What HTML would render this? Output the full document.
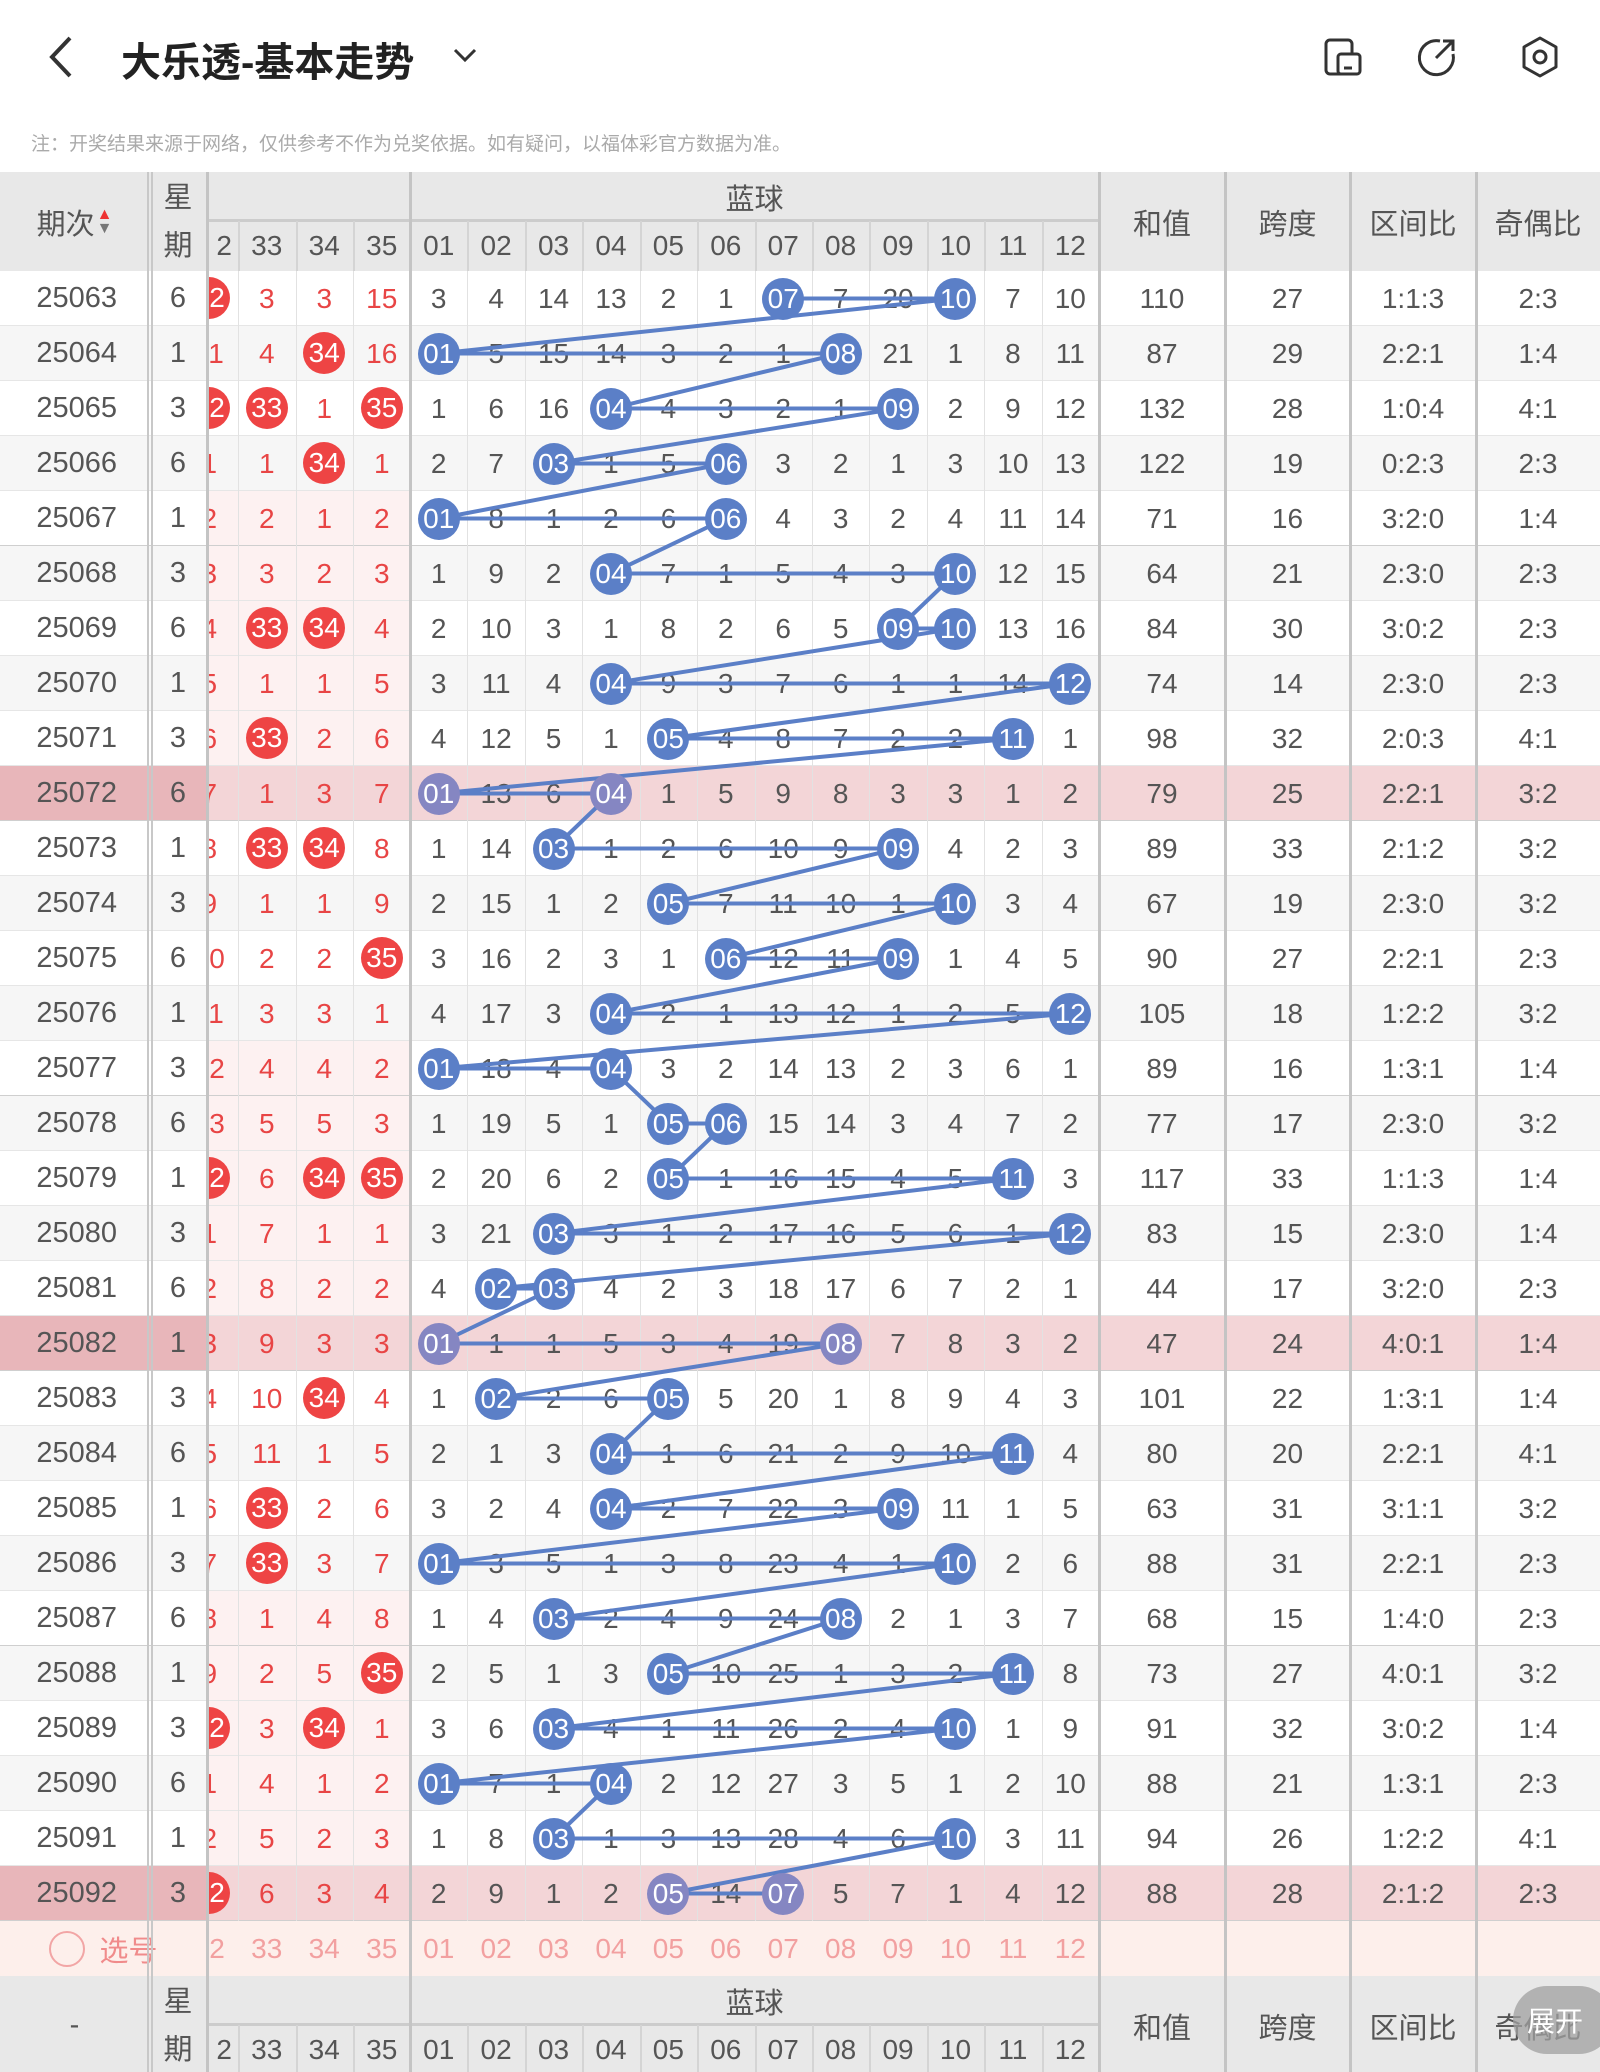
<!DOCTYPE html>
<html><head><meta charset="utf-8">
<style>
*{margin:0;padding:0;box-sizing:border-box}
body{width:1600px;height:2072px;overflow:hidden;background:#fff;font-family:"Liberation Sans","Noto Sans CJK SC",sans-serif;position:relative;color:#555}
.a{position:absolute}
.c{position:absolute;display:flex;align-items:center;justify-content:center;font-size:28px;white-space:nowrap}
.ball{position:absolute;width:42px;height:42px;border-radius:50%;color:#fff;display:flex;align-items:center;justify-content:center;font-size:28px}
</style></head><body>
<div class="a" style="left:0;top:0;width:1600px;height:120px">
 <svg class="a" style="left:44px;top:34px" width="34" height="46"><polyline points="26,4 8,23 26,42" fill="none" stroke="#333" stroke-width="4"/></svg>
 <div class="a" style="left:121px;top:30px;font-size:40px;font-weight:bold;color:#222">大乐透-基本走势</div>
 <svg class="a" style="left:452px;top:46px" width="26" height="18"><polyline points="3,4 13,14 23,4" fill="none" stroke="#333" stroke-width="3"/></svg>
 <svg class="a" style="left:1322px;top:36px" width="42" height="42"><rect x="4" y="4" width="26" height="34" rx="4" fill="none" stroke="#333" stroke-width="3"/><rect x="16" y="18" width="22" height="20" rx="3" fill="#fff" stroke="#333" stroke-width="3"/><line x1="22" y1="32" x2="30" y2="32" stroke="#333" stroke-width="3"/></svg>
 <svg class="a" style="left:1416px;top:36px" width="42" height="42"><path d="M24 5 A17 17 0 1 0 37 18" fill="none" stroke="#333" stroke-width="3"/><line x1="20" y1="22" x2="37" y2="5" stroke="#333" stroke-width="3"/><polyline points="27,5 37,5 37,15" fill="none" stroke="#333" stroke-width="3"/></svg>
 <svg class="a" style="left:1518px;top:35px" width="44" height="44"><polygon points="22,3 38,12 38,32 22,41 6,32 6,12" fill="none" stroke="#333" stroke-width="3" stroke-linejoin="round"/><circle cx="22" cy="22" r="6" fill="none" stroke="#333" stroke-width="3"/></svg>
</div>
<div class="a" style="left:31px;top:129px;font-size:19px;color:#aaa">注：开奖结果来源于网络，仅供参考不作为兑奖依据。如有疑问，以福体彩官方数据为准。</div>
<div id="tbl" class="a" style="left:0;top:172px;width:1600px;height:1900px;overflow:hidden"></div>
<div class="a" style="left:1513px;top:1986px;width:100px;height:68px;border-radius:34px;background:rgba(160,160,160,.75);color:#fff;font-size:28px;display:flex;align-items:center;padding-left:14px">展开</div>
<script>
const periods=[25063,25064,25065,25066,25067,25068,25069,25070,25071,25072,25073,25074,25075,25076,25077,25078,25079,25080,25081,25082,25083,25084,25085,25086,25087,25088,25089,25090,25091,25092];
const weekdays=[6,1,3,6,1,3,6,1,3,6,1,3,6,1,3,6,1,3,6,1,3,6,1,3,6,1,3,6,1,3];
const red32=["32*","11","32*","1","2","3","4","5","6","7","8","9","10","11","12","13","32*","1","2","3","4","5","6","7","8","9","32*","1","2","32*"];
const red33=["3","4","33*","1","2","3","33*","1","33*","1","33*","1","2","3","4","5","6","7","8","9","10","11","33*","33*","1","2","3","4","5","6"];
const red34=["3","34*","1","34*","1","2","34*","1","2","3","34*","1","2","3","4","5","34*","1","2","3","34*","1","2","3","4","5","34*","1","2","3"];
const red35=["15","16","35*","1","2","3","4","5","6","7","8","9","35*","1","2","3","35*","1","2","3","4","5","6","7","8","35*","1","2","3","4"];
const blue=[
"3,4,14,13,2,1,07*,7,20,10*,7,10","01*,5,15,14,3,2,1,08*,21,1,8,11","1,6,16,04*,4,3,2,1,09*,2,9,12","2,7,03*,1,5,06*,3,2,1,3,10,13","01*,8,1,2,6,06*,4,3,2,4,11,14",
"1,9,2,04*,7,1,5,4,3,10*,12,15","2,10,3,1,8,2,6,5,09*,10*,13,16","3,11,4,04*,9,3,7,6,1,1,14,12*","4,12,5,1,05*,4,8,7,2,2,11*,1","01*,13,6,04*,1,5,9,8,3,3,1,2",
"1,14,03*,1,2,6,10,9,09*,4,2,3","2,15,1,2,05*,7,11,10,1,10*,3,4","3,16,2,3,1,06*,12,11,09*,1,4,5","4,17,3,04*,2,1,13,12,1,2,5,12*","01*,18,4,04*,3,2,14,13,2,3,6,1",
"1,19,5,1,05*,06*,15,14,3,4,7,2","2,20,6,2,05*,1,16,15,4,5,11*,3","3,21,03*,3,1,2,17,16,5,6,1,12*","4,02*,03*,4,2,3,18,17,6,7,2,1","01*,1,1,5,3,4,19,08*,7,8,3,2",
"1,02*,2,6,05*,5,20,1,8,9,4,3","2,1,3,04*,1,6,21,2,9,10,11*,4","3,2,4,04*,2,7,22,3,09*,11,1,5","01*,3,5,1,3,8,23,4,1,10*,2,6","1,4,03*,2,4,9,24,08*,2,1,3,7",
"2,5,1,3,05*,10,25,1,3,2,11*,8","3,6,03*,4,1,11,26,2,4,10*,1,9","01*,7,1,04*,2,12,27,3,5,1,2,10","1,8,03*,1,3,13,28,4,6,10*,3,11","2,9,1,2,05*,14,07*,5,7,1,4,12"];
const sums=[110,87,132,122,71,64,84,74,98,79,89,67,90,105,89,77,117,83,44,47,101,80,63,88,68,73,91,88,94,88];
const spans=[27,29,28,19,16,21,30,14,32,25,33,19,27,18,16,17,33,15,17,24,22,20,31,31,15,27,32,21,26,28];
const zones=["1:1:3","2:2:1","1:0:4","0:2:3","3:2:0","2:3:0","3:0:2","2:3:0","2:0:3","2:2:1","2:1:2","2:3:0","2:2:1","1:2:2","1:3:1","2:3:0","1:1:3","2:3:0","3:2:0","4:0:1","1:3:1","2:2:1","3:1:1","2:2:1","1:4:0","4:0:1","3:0:2","1:3:1","1:2:2","2:1:2"];
const oddeven=["2:3","1:4","4:1","2:3","1:4","2:3","2:3","2:3","4:1","3:2","3:2","3:2","2:3","3:2","1:4","3:2","1:4","1:4","2:3","1:4","1:4","4:1","3:2","2:3","2:3","3:2","1:4","2:3","4:1","2:3"];
const highlight=[25072,25082,25092];
const blueLabels=["01","02","03","04","05","06","07","08","09","10","11","12"];
const redLabels=["32","33","34","35"];

const T=document.getElementById('tbl');
const H1=49,H2=50,HDR=H1+H2,RH=55;
const X={per:0,wk:149,red:207,blue:410,sum:1099,span:1225,zone:1350,odd:1476,end:1600};
const redW=[31,57.5,57.5,57.5]; const redX=[207,238,295.5,353];
const bw=(X.sum-X.blue)/12;
function bx(i){return X.blue+bw*i+bw/2}
function ry(i){return HDR+RH*i+RH/2}
function div(l,t,w,h,bg,txt,color,fs){const d=document.createElement('div');d.className='c';d.style.cssText=`left:${l}px;top:${t}px;width:${w}px;height:${h}px;`+(bg?`background:${bg};`:'')+(color?`color:${color};`:'')+(fs?`font-size:${fs}px;`:'');if(txt!==undefined)d.textContent=txt;T.appendChild(d);return d}

function header(top,bottom){
 let d=div(0,top,1600,H1+H2,'#e8e8e8');
 d=div(0,top,149,HDR,null,bottom?'-':'期次','#555',29);
 if(!bottom){d.innerHTML='期次<span style="display:inline-flex;flex-direction:column;font-size:16px;line-height:14px;margin-left:2px"><span style="color:#e33">▲</span><span style="color:#777">▼</span></span>'}
 d=div(149,top,58,HDR,null,'','#555',29);d.innerHTML='星<br>期';d.style.lineHeight='48px';d.style.textAlign='center';
 d=div(X.blue,top,X.sum-X.blue,H1,null,'蓝球','#555',29);
 for(let k=0;k<4;k++){d=div(redX[k],top+H1,redW[k],H2,null,'','#555');d.style.overflow='hidden';d.innerHTML=`<span style="position:absolute;right:${k==0?6:undefined}px;${k==0?'':'left:0;right:0;text-align:center'}">${k==0?'2':redLabels[k]}</span>`;}
 for(let j=0;j<12;j++){d=div(X.blue+bw*j,top+H1,bw,H2,null,blueLabels[j],'#555');}
 [['sum','和值'],['span','跨度'],['zone','区间比'],['odd','奇偶比']].forEach(([k,t],n)=>{const ks=['sum','span','zone','odd','end'];d=div(X[k],top,X[ks[n+1]]-X[k],HDR,null,t,'#555',29);});
 const l=document.createElement('div');l.className='a';l.style.cssText=`left:${X.red}px;top:${top+H1-2}px;width:${X.sum-X.red}px;height:3px;background:#ccc`;T.appendChild(l);
 for(let j=1;j<4;j++){const v=document.createElement('div');v.className='a';v.style.cssText=`left:${redX[j]}px;top:${top+H1}px;width:2px;height:${H2}px;background:#d4d4d4`;T.appendChild(v);}
 for(let j=1;j<12;j++){const v=document.createElement('div');v.className='a';v.style.cssText=`left:${X.blue+bw*j}px;top:${top+H1}px;width:2px;height:${H2}px;background:#d4d4d4`;T.appendChild(v);}
}
header(0,false);

for(let i=0;i<periods.length;i++){
 const top=HDR+RH*i, hl=highlight.includes(periods[i]);
 let r=div(0,top,1600,RH,hl?'#f3d5d7':(i%2?'#f6f6f6':'#fff'));
 
 if(!hl&&(i%10>=4&&i%10<=8)){div(X.red,top,X.blue-X.red,RH,'#fdf1f1');}
 let d=div(0,top,149,RH,hl?'#e8b6ba':null,String(periods[i]),'#555',29);d.style.justifyContent='flex-end';d.style.paddingRight='32px';
 
 d=div(149,top,58,RH,hl?'#e8b6ba':null,String(weekdays[i]),'#555',29);
 [red32,red33,red34,red35].forEach((arr,k)=>{
  const v=arr[i],ball=v.endsWith('*'),t=v.replace('*','');
  const c=div(redX[k],top,redW[k],RH,null,'');c.style.overflow='hidden';
  
  const cx=k==0?redW[0]-57.5/2:redW[k]/2;
  if(ball){c.innerHTML=`<div class="ball" style="left:${cx-21}px;top:6px;background:#ee4444">${t}</div>`}
  else c.innerHTML=`<span style="position:absolute;left:${cx-40}px;width:80px;text-align:center;color:#e84545">${t}</span>`;
 });
 blue[i].split(',').forEach((v,j)=>{
  if(!v.endsWith('*')){const c=div(X.blue+bw*j,top,bw,RH,null,v,'#555');}
 });
 [[sums,'sum','span'],[spans,'span','zone'],[zones,'zone','odd'],[oddeven,'odd','end']].forEach(([a,k,n])=>{d=div(X[k],top,X[n]-X[k],RH,null,String(a[i]),'#555');});
 const hr=document.createElement('div');hr.className='a';hr.style.cssText=`left:0;top:${top+RH-1}px;width:1600px;height:${(i%5==4)?2:1}px;background:${(i%5==4)?'#cfcfcf':'#e6e6e6'}`;T.appendChild(hr);
}
for(let j=1;j<4;j++){const v=document.createElement('div');v.className='a';v.style.cssText=`left:${redX[j]}px;top:${HDR}px;width:1px;height:${RH*31}px;background:#e2e2e2`;T.appendChild(v);}
for(let j=1;j<12;j++){const v=document.createElement('div');v.className='a';v.style.cssText=`left:${X.blue+bw*j}px;top:${HDR}px;width:1px;height:${RH*31}px;background:#e2e2e2`;T.appendChild(v);}

const sTop=HDR+RH*periods.length;
let s=div(0,sTop,1600,RH,'#fdefeb');
s=div(0,sTop,207,RH,null,'','#f08b8b',29);s.innerHTML='<span style="display:inline-block;width:36px;height:36px;border:2px solid #f2a5a5;border-radius:50%;margin-right:14px"></span>选号';
for(let k=0;k<4;k++){const c=div(redX[k],sTop,redW[k],RH,null,'');c.style.overflow='hidden';const cx=k==0?redW[0]-57.5/2:redW[k]/2;c.innerHTML=`<span style="position:absolute;left:${cx-40}px;width:80px;text-align:center;color:#f2a0a0">${redLabels[k]}</span>`;}
for(let j=0;j<12;j++){const c=div(X.blue+bw*j,sTop,bw,RH,null,blueLabels[j],'#f2a0a0');}

const svgNS='http://www.w3.org/2000/svg';
const svg=document.createElementNS(svgNS,'svg');svg.setAttribute('width',1600);svg.setAttribute('height',1900);svg.style.cssText='position:absolute;left:0;top:0';


T.appendChild(svg);
const pts=[];
blue.forEach((row,i)=>{row.split(',').forEach((v,j)=>{if(v.endsWith('*'))pts.push([bx(j),ry(i),i,v.replace('*','')]);});});
const pl=document.createElementNS(svgNS,'polyline');pl.setAttribute('points',pts.map(p=>p[0]+','+p[1]).join(' '));pl.setAttribute('fill','none');pl.setAttribute('stroke','#5b7fc7');pl.setAttribute('stroke-width','4');svg.appendChild(pl);
pts.forEach(p=>{const b=document.createElement('div');b.className='ball';const hl=highlight.includes(periods[p[2]]);b.style.cssText=`left:${p[0]-21}px;top:${p[1]-21}px;background:${hl?'#8586c2':'#5b7fc7'}`;b.textContent=p[3];
 
 
 T.appendChild(b);});

header(sTop+RH,true);

[[147,'#c8c8c8',2],[151,'#c8c8c8',2],[206,'#c4c4c4',3],[409,'#c4c4c4',3],[1098,'#c4c4c4',3],[1224,'#c4c4c4',3],[1349,'#c4c4c4',3],[1475,'#c4c4c4',3]].forEach(([x,c,w])=>{const v=document.createElement('div');v.className='a';v.style.cssText=`left:${x}px;top:0;width:${w}px;height:1900px;background:${c}`;T.appendChild(v);});
</script>
</body></html>
